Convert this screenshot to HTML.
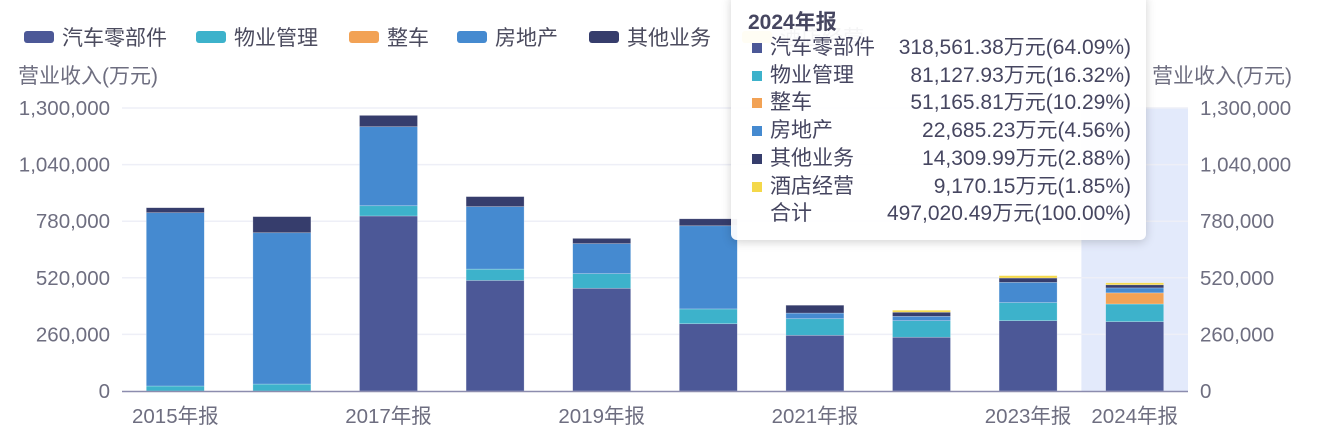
<!DOCTYPE html>
<html><head><meta charset="utf-8">
<style>
html,body{margin:0;padding:0;background:#fff;}
body{width:1318px;height:438px;overflow:hidden;position:relative;font-family:"Liberation Sans","Noto Sans CJK SC",sans-serif;}
svg text{font-family:"Liberation Sans","Noto Sans CJK SC",sans-serif;}
#tip{position:absolute;left:731px;top:-6px;width:415px;height:246px;background:rgba(255,255,255,0.94);border-radius:6px;box-shadow:0 2px 10px rgba(0,0,0,0.18);color:#464660;font-size:21px;}
#tip .t{position:absolute;left:17px;top:12px;font-weight:bold;font-size:21px;}
#tip .row{position:absolute;left:17px;width:383px;height:26px;line-height:26px;}
#tip .mk{position:absolute;left:4px;top:8px;width:10px;height:10px;}
#tip .lb{position:absolute;left:22px;}
#tip .v{position:absolute;right:0;}
</style></head><body>
<svg id="chart" width="1318" height="438"></svg>
<div id="tip">
<div class="t">2024年报</div>
</div>
<script>
const categories=["2015年报","2016年报","2017年报","2018年报","2019年报","2020年报","2021年报","2022年报","2023年报","2024年报"];
const seriesNames=["汽车零部件","物业管理","整车","房地产","其他业务","酒店经营"];
const colors=["#4c5897","#3db2cb","#f2a255","#458ad0","#363d6c","#f4d84a"];
const autoParts=[0,0,804,508,472,309,256,247,323,318.56138];
const propertyMgmt=[23,32,47,52,67,68,76,76,83,81.12793];
const vehicles=[0,0,0,0,0,0,0,0,0,51.16581];
const realEstate=[796,695,363,287,138,382,26,20,93,22.68523];
const otherBiz=[23,74,52,46,24,32,36,19,20,14.30999];
const hotel=[0,0,0,0,0,0,0,9,11,9.17015];
const yTicks=[0,260000,520000,780000,1040000,1300000];
const tipValues=["318,561.38万元(64.09%)","81,127.93万元(16.32%)","51,165.81万元(10.29%)","22,685.23万元(4.56%)","14,309.99万元(2.88%)","9,170.15万元(1.85%)","497,020.49万元(100.00%)"];
const series=[autoParts,propertyMgmt,vehicles,realEstate,otherBiz,hotel];
const NS="http://www.w3.org/2000/svg";
const svg=document.getElementById('chart');
const X0=122,X1=1188,Y0=391,Y1=108,YMAX=1300;
const band=(X1-X0)/categories.length;
const xC=i=>X0+band*(i+0.5);
const y=v=>Y0-(v/YMAX)*(Y0-Y1);
function mk(tag,attrs,parent){const e=document.createElementNS(NS,tag);for(const k in attrs)e.setAttribute(k,attrs[k]);(parent||svg).appendChild(e);return e;}
const hl=mk('rect',{x:X0+band*9,y:Y1,width:band,height:Y0-Y1,fill:'#e3eafb'});


yTicks.forEach(t=>{const yy=y(t/1000);
 if(t>0){const g=mk('line',{x1:X0,x2:X1,y1:yy,y2:yy,stroke:'#eeeff7','stroke-width':1.5});
 
 }
 const s=t.toLocaleString('en-US');
 const l=mk('text',{x:110,y:yy+7,'text-anchor':'end','font-size':20.5,fill:'#6e6e80'});l.textContent=s;
 
 
 const r=mk('text',{x:1200,y:yy+7,'font-size':20.5,fill:'#6e6e80'});r.textContent=s;
 
 
});
categories.forEach((c,i)=>{let acc=0;
 series.forEach((s,k)=>{const v=s[i];if(v<=0)return;
  const r=mk('rect',{x:xC(i)-29,y:y(acc+v),width:58,height:y(acc)-y(acc+v),fill:colors[k],stroke:'rgba(255,255,255,0.4)','stroke-width':0.6});
  
  
  acc+=v;});
 if(i%2===0||i===9){const t=mk('text',{x:xC(i),y:423,'text-anchor':'middle','font-size':20.5,fill:'#6e6e80'});t.textContent=c;
  
  }
});
const ax=mk('line',{x1:X0,x2:X1,y1:Y0+0.5,y2:Y0+0.5,stroke:'#8c8cae','stroke-width':1.5});


const yt1=mk('text',{x:18,y:83,'font-size':21,fill:'#6e6e80'});yt1.textContent='营业收入(万元)';


const yt2=mk('text',{x:1292,y:83,'text-anchor':'end','font-size':21,fill:'#6e6e80'});yt2.textContent='营业收入(万元)';


const lx=[24,196,349,457,589,742];
seriesNames.forEach((n,k)=>{
 const g=mk('g',{});
 
 
 mk('rect',{x:lx[k],y:31,width:30,height:12,rx:3,fill:colors[k]},g);
 const t=mk('text',{x:lx[k]+38,y:45,'font-size':21,fill:'#4b4b5e'},g);t.textContent=n;
});
const tip=document.getElementById('tip');
[...seriesNames,"合计"].forEach((n,k)=>{
 const row=document.createElement('div');row.className='row';row.style.top=(41+k*27.7)+'px';
 
 
 row.innerHTML=(k<6?'<span class="mk" style="background:'+colors[k]+'"></span>':'')+'<span class="lb">'+n+'</span><span class="v">'+tipValues[k]+'</span>';
 tip.appendChild(row);
});
</script>
</body></html>
